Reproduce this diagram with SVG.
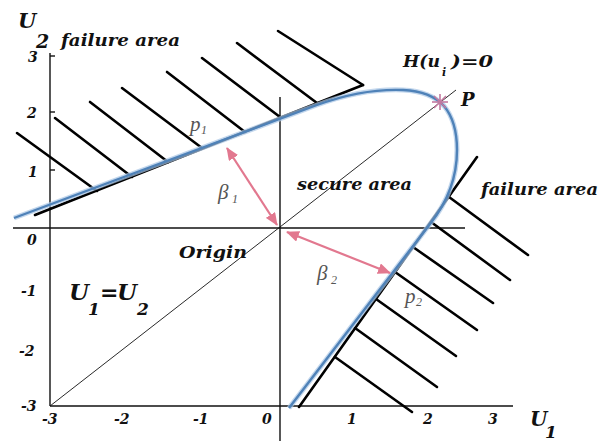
<svg xmlns="http://www.w3.org/2000/svg" width="608" height="441" viewBox="0 0 608 441">
<style>
.t{font-family:"DejaVu Serif","Liberation Serif",serif;font-weight:bold;font-style:italic;fill:#111}
.n{font-family:"Liberation Serif","Times New Roman",serif;font-style:italic;fill:#555}
.ax{stroke:#111;stroke-width:1.4;fill:none}
.thin{stroke:#111;stroke-width:0.9;fill:none}
.bd{stroke:#000;stroke-width:2.6;fill:none;stroke-linecap:round}
.pk{stroke:#e2788f;stroke-width:2.2;fill:none}
</style>
<defs>
<marker id="ah" viewBox="0 0 13 11" refX="12" refY="5.5" markerWidth="13" markerHeight="11" markerUnits="userSpaceOnUse" orient="auto-start-reverse">
<path d="M0,0 L13,5.5 L0,11 Z" fill="#e2788f"/>
</marker>
</defs>
<rect width="608" height="441" fill="#fff"/>
<g id="axes">
<line class="ax" x1="50" y1="53" x2="50" y2="406"/>
<line class="ax" x1="50" y1="406" x2="513" y2="406"/>
<line class="ax" x1="13" y1="228" x2="465" y2="228"/>
<line class="ax" x1="280" y1="97" x2="280" y2="441"/>
<line class="ax" x1="50" y1="56" x2="55" y2="56"/>
<line class="ax" x1="50" y1="112" x2="55" y2="112"/>
<line class="ax" x1="50" y1="170" x2="55" y2="170"/>
<line class="thin" x1="50" y1="406" x2="456" y2="90"/>
</g>
<g id="ticks" class="t" font-size="14">
<text x="28" y="62">3</text>
<text x="27" y="118">2</text>
<text x="28" y="177">1</text>
<text x="27" y="245">0</text>
<text x="21" y="296">-1</text>
<text x="19" y="356">-2</text>
<text x="21" y="411">-3</text>
<text x="42" y="424">-3</text>
<text x="114" y="424">-2</text>
<text x="193" y="424">-1</text>
<text x="262" y="424">0</text>
<text x="347" y="424">1</text>
<text x="423" y="424">2</text>
<text x="488" y="424">3</text>
</g>
<g id="failure1">
<line class="bd" x1="35" y1="215" x2="363" y2="85"/>
<line class="bd" x1="17" y1="133" x2="97" y2="191"/>
<line class="bd" x1="55" y1="118" x2="132" y2="177"/>
<line class="bd" x1="90" y1="102" x2="168" y2="162"/>
<line class="bd" x1="122" y1="88" x2="202" y2="148"/>
<line class="bd" x1="167" y1="72" x2="245" y2="132"/>
<line class="bd" x1="202" y1="58" x2="280" y2="117"/>
<line class="bd" x1="237" y1="43" x2="317" y2="103"/>
<line class="bd" x1="278" y1="31" x2="363" y2="85"/>
</g>
<g id="failure2">
<line class="bd" x1="477" y1="157" x2="299" y2="407"/>
<line class="bd" x1="449" y1="197" x2="528" y2="255"/>
<line class="bd" x1="431" y1="222" x2="510" y2="280"/>
<line class="bd" x1="413" y1="247" x2="493" y2="303"/>
<line class="bd" x1="395" y1="272" x2="477" y2="330"/>
<line class="bd" x1="376" y1="299" x2="456" y2="356"/>
<line class="bd" x1="355" y1="328" x2="437" y2="387"/>
<line class="bd" x1="335" y1="357" x2="412" y2="412"/>
</g>
<g id="limit-state">
<path d="M14,218 L317,105 C350,93 378,89 403,90 C422,91 435,96 444,106 C454,118 457,133 457,150 C457,180 446,204 430,224 L289,408" stroke="#a9c6e6" stroke-width="5" fill="none" opacity="0.7"/>
<path d="M14,218 L317,105 C350,93 378,89 403,90 C422,91 435,96 444,106 C454,118 457,133 457,150 C457,180 446,204 430,224 L289,408" stroke="#4f82b8" stroke-width="2.4" fill="none"/>
</g>
<g id="point-P" stroke="#c47aa0" stroke-width="1.6">
<line x1="432" y1="102" x2="448" y2="102"/>
<line x1="440" y1="94" x2="440" y2="110"/>
<line x1="434" y1="96" x2="446" y2="108"/>
<line x1="434" y1="108" x2="446" y2="96"/>
</g>
<g id="connectors">
<line class="pk" x1="227" y1="148" x2="277" y2="225" marker-start="url(#ah)" marker-end="url(#ah)"/>
<line class="pk" x1="287" y1="232" x2="390" y2="273" marker-start="url(#ah)" marker-end="url(#ah)"/>
</g>
<g id="labels">
<text class="t" font-size="21" x="18" y="28">U</text>
<text class="t" font-size="19" x="36" y="48">2</text>
<text class="t" font-size="17" x="61" y="46" textLength="119" lengthAdjust="spacingAndGlyphs">failure area</text>
<text class="t" font-size="17" x="481" y="195" textLength="117" lengthAdjust="spacingAndGlyphs">failure area</text>
<text class="t" font-size="16" x="297" y="190" textLength="115" lengthAdjust="spacingAndGlyphs">secure area</text>
<text class="t" font-size="16" x="179" y="258" textLength="68" lengthAdjust="spacingAndGlyphs">Origin</text>
<text class="t" font-size="16" x="403" y="67" textLength="37" lengthAdjust="spacingAndGlyphs">H(u</text>
<text class="t" font-size="11" x="442" y="76">i</text>
<text class="t" font-size="16" x="451" y="67" textLength="42" lengthAdjust="spacingAndGlyphs">)=0</text>
<text class="t" font-size="18" x="461" y="106">P</text>
<text class="t" font-size="23" x="69" y="300">U</text>
<text class="t" font-size="17" x="88" y="315">1</text>
<text class="t" font-size="22" x="100" y="300">=</text>
<text class="t" font-size="23" x="117" y="300">U</text>
<text class="t" font-size="17" x="137" y="315">2</text>
<text class="t" font-size="20" x="530" y="426">U</text>
<text class="t" font-size="17" x="545" y="438">1</text>
<text class="n" font-size="21" x="190" y="131">p</text>
<text class="n" font-size="12" x="201" y="134">1</text>
<text class="n" font-size="21" x="405" y="303">p</text>
<text class="n" font-size="12" x="416" y="306">2</text>
<text class="n" font-size="21" x="218" y="199">β</text>
<text class="n" font-size="12" x="232" y="203">1</text>
<text class="n" font-size="21" x="317" y="280">β</text>
<text class="n" font-size="12" x="331" y="284">2</text>
</g>
</svg>
